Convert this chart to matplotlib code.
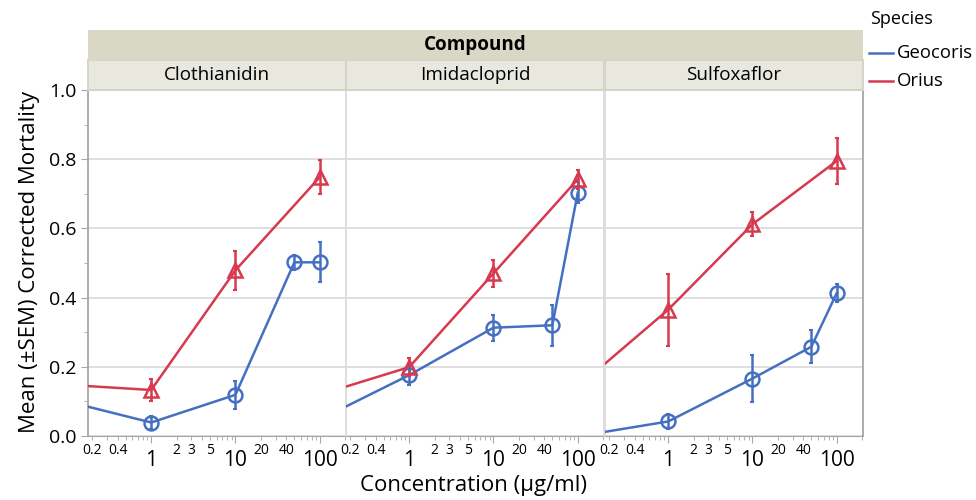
import matplotlib.pyplot as plt
import matplotlib.ticker as mticker
import numpy as np

plt.rcParams['font.family'] = ['Open Sans', 'DejaVu Sans']

# concentrations (ug/ml); 0.1 stands for the control level, drawn off the left edge
compounds = ["Clothianidin", "Imidacloprid", "Sulfoxaflor"]
species = ["Geocoris", "Orius"]
colors = {"Geocoris": "#4570c2", "Orius": "#d7394f"}
markers = {"Geocoris": "o", "Orius": "^"}

geo_x = {"Clothianidin": [0.1, 1, 10, 50, 100],
         "Imidacloprid": [0.1, 1, 10, 50, 100],
         "Sulfoxaflor": [0.1, 1, 10, 50, 100]}
geo_mean = {"Clothianidin": [0.100, 0.039, 0.119, 0.502, 0.502],
            "Imidacloprid": [0.055, 0.176, 0.313, 0.320, 0.703],
            "Sulfoxaflor": [0.002, 0.042, 0.166, 0.258, 0.413]}
geo_sem = {"Clothianidin": [0, 0.020, 0.040, 0.022, 0.058],
           "Imidacloprid": [0, 0.028, 0.037, 0.060, 0.030],
           "Sulfoxaflor": [0, 0.022, 0.069, 0.047, 0.025]}

ori_x = {"Clothianidin": [0.1, 1, 10, 100],
         "Imidacloprid": [0.1, 1, 10, 100],
         "Sulfoxaflor": [0.1, 1, 10, 100]}
ori_mean = {"Clothianidin": [0.148, 0.133, 0.479, 0.748],
            "Imidacloprid": [0.124, 0.199, 0.470, 0.742],
            "Sulfoxaflor": [0.157, 0.365, 0.612, 0.795]}
ori_sem = {"Clothianidin": [0, 0.032, 0.057, 0.050],
           "Imidacloprid": [0, 0.025, 0.040, 0.028],
           "Sulfoxaflor": [0, 0.104, 0.035, 0.067]}

minor_labels = [0.2, 0.4, 2, 3, 5, 20, 40]

W, H = 976, 500
fig = plt.figure(figsize=(W / 100, H / 100), dpi=100)

lefts = [88, 346, 605]
pw = 258
top, bot = 90, 436
grid_c = "#dcdcdc"
axis_c = "#a6a6a6"


def minor_fmt(v, pos):
    for m in minor_labels:
        if abs(v - m) / m < 1e-6:
            return ("%g" % m)
    return ""


axes = []
for i, comp in enumerate(compounds):
    ax = fig.add_axes([lefts[i] / W, 1 - bot / H, pw / W, (bot - top) / H])
    axes.append(ax)
    ax.set_xscale("log")
    ax.set_xlim(0.178, 205)
    ax.set_ylim(0, 1.0)
    ax.set_yticks(np.arange(0, 1.01, 0.2))
    ax.yaxis.set_minor_locator(mticker.MultipleLocator(0.1))
    ax.grid(axis="y", which="major", color=grid_c, lw=1.3, zorder=0)
    ax.set_axisbelow(True)

    ax.xaxis.set_major_locator(mticker.LogLocator(base=10, numticks=10))
    ax.xaxis.set_minor_locator(mticker.LogLocator(base=10, subs=np.arange(2, 10), numticks=20))
    ax.xaxis.set_major_formatter(mticker.FuncFormatter(lambda v, p: "%g" % v))
    ax.xaxis.set_minor_formatter(mticker.FuncFormatter(minor_fmt))
    ax.tick_params(axis="x", which="major", labelsize=15, length=5, color=axis_c, pad=5)
    ax.tick_params(axis="x", which="minor", labelsize=10, length=3, color=axis_c, pad=2)

    ax.spines["top"].set_visible(False)
    ax.spines["bottom"].set_color(axis_c)
    ax.spines["left"].set_color(grid_c if i > 0 else axis_c)
    ax.spines["right"].set_color(axis_c if i == 2 else grid_c)
    ax.spines["left"].set_linewidth(1.3)
    ax.spines["right"].set_linewidth(1.3)

    if i == 0:
        ax.tick_params(axis="y", which="major", labelsize=14, length=5, color=axis_c)
        ax.tick_params(axis="y", which="minor", length=3, color=axis_c)
        ax.yaxis.set_major_formatter(mticker.FormatStrFormatter("%.1f"))
    else:
        ax.tick_params(axis="y", which="both", left=False, labelleft=False)

    series = [("Geocoris", geo_x, geo_mean, geo_sem), ("Orius", ori_x, ori_mean, ori_sem)]
    for sp_name, xs, ms, ss in series:
        c = colors[sp_name]
        x = np.array(xs[comp])
        m = np.array(ms[comp])
        s = np.array(ss[comp])
        ax.plot(x, m, color=c, lw=1.8, zorder=3, label=sp_name)
        ax.errorbar(x[1:], m[1:], yerr=s[1:], fmt="none", ecolor=c, elinewidth=1.8,
                    capsize=1.5, capthick=1.5, zorder=4)
        ax.plot(x[1:], m[1:], linestyle="none", marker=markers[sp_name], ms=10,
                mfc="none", mec=c, mew=1.8, zorder=5)

    # facet strip
    sax = fig.add_axes([lefts[i] / W, 1 - 90 / H, pw / W, 30 / H])
    sax.set_facecolor("#e8e8df")
    sax.set_xticks([])
    sax.set_yticks([])
    for sp in sax.spines.values():
        sp.set_color("#d5d4c8")
        sp.set_linewidth(1.4)
    sax.text(0.5, 0.5, comp, ha="center", va="center", fontsize=13.6)

# overall "Compound" strip
hax = fig.add_axes([88 / W, 1 - 60 / H, (863 - 88) / W, 30 / H])
hax.set_facecolor("#d9d8c6")
hax.set_xticks([])
hax.set_yticks([])
for sp in hax.spines.values():
    sp.set_visible(False)
hax.text(0.5, 0.5, "Compound", ha="center", va="center", fontsize=13.6, fontweight="bold")

fig.text(30 / W, 1 - 262 / H, "Mean (±SEM) Corrected Mortality", rotation=90,
         ha="center", va="center", fontsize=16)
fig.text(473 / W, 1 - 486 / H, "Concentration (µg/ml)", ha="center", va="center", fontsize=16)

# legend
fig.text(870 / W, 1 - 19 / H, "Species", ha="left", va="center", fontsize=13)
for k, sp_name in enumerate(species):
    yy = 1 - (53 + 28 * k) / H
    fig.add_artist(plt.Line2D([869 / W, 893 / W], [yy, yy], color=colors[sp_name], lw=1.8))
    fig.text(897 / W, yy, sp_name, ha="left", va="center", fontsize=13.3)

fig.savefig("out.png", dpi=100)
